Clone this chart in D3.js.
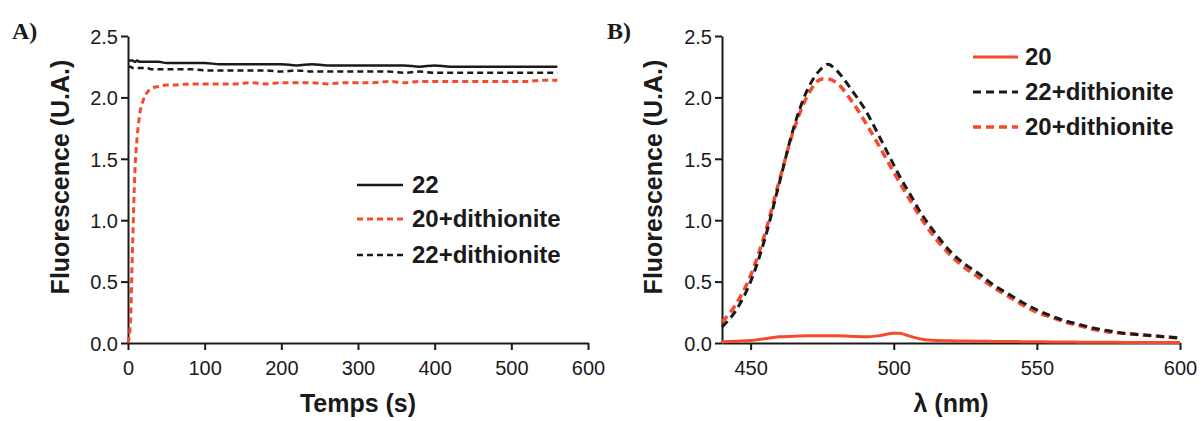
<!DOCTYPE html>
<html>
<head>
<meta charset="utf-8">
<script src="https://cdn.jsdelivr.net/npm/d3@7"></script>
<style>
  html, body { margin: 0; padding: 0; background: #fff; }
  svg { display: block; }
</style>
</head>
<body>
<svg id="fig" width="1202" height="421"></svg>
<script>
// ---- Panel A: fluorescence vs time ----
const timeA = [0, 3, 6, 9, 12, 15, 20, 25, 30, 40, 50, 60, 80, 100, 120, 140, 160, 180, 200,
  220, 240, 260, 280, 300, 320, 340, 360, 380, 400, 420, 440, 460, 480, 500, 520, 540, 560];
const a22 = [2.30, 2.30, 2.30, 2.29, 2.30, 2.29, 2.29, 2.29, 2.29, 2.29, 2.28, 2.28, 2.28, 2.28,
  2.27, 2.27, 2.27, 2.27, 2.27, 2.26, 2.27, 2.26, 2.26, 2.26, 2.26, 2.26, 2.26, 2.25, 2.26, 2.25,
  2.25, 2.25, 2.25, 2.25, 2.25, 2.25, 2.25];
const a20dith = [0.00, 0.15, 0.80, 1.40, 1.68, 1.85, 1.98, 2.04, 2.07, 2.09, 2.10, 2.10, 2.11,
  2.11, 2.11, 2.11, 2.12, 2.11, 2.12, 2.12, 2.12, 2.11, 2.12, 2.12, 2.12, 2.13, 2.12, 2.13, 2.13,
  2.13, 2.13, 2.13, 2.13, 2.13, 2.13, 2.14, 2.14];
const a22dith = [2.25, 2.25, 2.24, 2.24, 2.24, 2.24, 2.24, 2.24, 2.23, 2.23, 2.23, 2.23, 2.23,
  2.22, 2.22, 2.22, 2.22, 2.22, 2.21, 2.22, 2.21, 2.21, 2.21, 2.21, 2.21, 2.21, 2.20, 2.21, 2.20,
  2.20, 2.20, 2.20, 2.20, 2.20, 2.20, 2.20, 2.20];
const ticksTime = [0, 100, 200, 300, 400, 500, 600];

// ---- Panel B: emission spectra ----
const lambdaB = [440, 445, 450, 455, 460, 465, 470, 475, 477, 480, 485, 490, 495, 500, 502, 505,
  510, 515, 520, 525, 530, 535, 540, 545, 550, 555, 560, 565, 570, 575, 580, 585, 590, 595, 600];
const b20 = [0.010, 0.015, 0.020, 0.035, 0.050, 0.055, 0.060, 0.060, 0.060, 0.060, 0.055, 0.050,
  0.060, 0.080, 0.080, 0.060, 0.030, 0.020, 0.018, 0.016, 0.015, 0.013, 0.012, 0.011, 0.010,
  0.009, 0.008, 0.007, 0.006, 0.006, 0.005, 0.005, 0.004, 0.004, 0.004];
const b22dith = [0.13, 0.27, 0.50, 0.85, 1.30, 1.75, 2.07, 2.24, 2.27, 2.22, 2.07, 1.90, 1.68,
  1.45, 1.36, 1.24, 1.04, 0.88, 0.74, 0.64, 0.56, 0.47, 0.40, 0.33, 0.27, 0.22, 0.18, 0.15, 0.12,
  0.10, 0.08, 0.07, 0.06, 0.05, 0.04];
const b20dith = [0.17, 0.32, 0.55, 0.89, 1.32, 1.73, 2.02, 2.15, 2.15, 2.12, 1.98, 1.80, 1.60,
  1.39, 1.31, 1.19, 1.00, 0.84, 0.71, 0.61, 0.53, 0.45, 0.38, 0.31, 0.25, 0.21, 0.17, 0.14, 0.11,
  0.09, 0.08, 0.07, 0.06, 0.05, 0.04];
const ticksLambda = [450, 500, 550, 600];

const ticksFluo = [0, 0.5, 1.0, 1.5, 2.0, 2.5];

const RED = "#f64a2c";
const INK = "#1a1a1a";
const SANS = "'Liberation Sans', Arial, Helvetica, sans-serif";

const svg = d3.select("#fig");

function drawPanel(opt) {
  const x = d3.scaleLinear().domain(opt.xDomain).range([opt.left, opt.right]);
  const y = d3.scaleLinear().domain([0, 2.5]).range([343, 36]);
  const g = svg.append("g");

  // y axis
  const ya = g.append("g")
    .attr("transform", `translate(${opt.left},0)`)
    .call(d3.axisLeft(y).tickValues(ticksFluo).tickFormat(d3.format(".1f"))
      .tickSize(7).tickSizeOuter(0).tickPadding(3));
  // x axis
  const xa = g.append("g")
    .attr("transform", "translate(0,343)")
    .call(d3.axisBottom(x).tickValues(opt.xTicks).tickFormat(d3.format("d"))
      .tickSize(7).tickSizeOuter(0));
  [ya, xa].forEach(ax => {
    ax.select(".domain").attr("stroke", INK).attr("stroke-width", 2);
    ax.selectAll(".tick line").attr("stroke", INK).attr("stroke-width", 2);
    ax.selectAll(".tick text").attr("fill", INK)
      .style("font-family", SANS).style("font-size", "20px");
  });
  xa.selectAll(".tick text").attr("y", 32).attr("dy", 0);
  ya.selectAll(".tick text").attr("dy", "0.36em");

  // axis titles
  g.append("text")
    .attr("transform", `translate(${opt.yTitleX},177) rotate(-90)`)
    .attr("text-anchor", "middle").attr("dy", "0.36em")
    .style("font-family", SANS).style("font-size", "25px").style("font-weight", "bold")
    .attr("fill", INK).text("Fluorescence (U.A.)");
  g.append("text")
    .attr("x", (opt.left + opt.right) / 2).attr("y", 412)
    .attr("text-anchor", "middle")
    .style("font-family", SANS).style("font-size", "25px").style("font-weight", "bold")
    .attr("fill", INK).text(opt.xTitle);

  // panel letter
  g.append("text")
    .attr("x", opt.letterX).attr("y", 39)
    .style("font-family", "'Liberation Serif', 'Times New Roman', serif")
    .style("font-size", "24px").style("font-weight", "bold")
    .attr("fill", INK).text(opt.letter);

  // curves
  const line = d3.line()
    .x((d, i) => x(opt.xs[i]))
    .y(d => y(d))
    .curve(d3.curveMonotoneX);
  opt.series.forEach(s => {
    g.append("path")
      .datum(s.values)
      .attr("d", line)
      .attr("fill", "none")
      .attr("stroke", s.color)
      .attr("stroke-width", s.width)
      .attr("stroke-dasharray", s.dash || null)
      .attr("stroke-linejoin", "round");
  });

  // legend
  opt.legend.items.forEach((s, i) => {
    const by = opt.legend.baselines[i];
    g.append("line")
      .attr("x1", opt.legend.x1).attr("x2", opt.legend.x2)
      .attr("y1", by - 8).attr("y2", by - 8)
      .attr("stroke", s.color).attr("stroke-width", s.width)
      .attr("stroke-dasharray", s.dash || null);
    g.append("text")
      .attr("x", opt.legend.tx).attr("y", by)
      .style("font-family", SANS).style("font-size", "24px").style("font-weight", "bold")
      .attr("fill", INK).text(s.name);
  });
}

const sA22 = { name: "22", values: a22, color: INK, width: 2.5 };
const sA20d = { name: "20+dithionite", values: a20dith, color: RED, width: 3, dash: "6,4" };
const sA22d = { name: "22+dithionite", values: a22dith, color: INK, width: 2.5, dash: "6,4" };

drawPanel({
  xDomain: [0, 600], left: 128, right: 588, xTicks: ticksTime, xs: timeA,
  xTitle: "Temps (s)", yTitleX: 60, letter: "A)", letterX: 12,
  series: [sA20d, sA22d, sA22],
  legend: { x1: 357, x2: 403, tx: 412, baselines: [193, 227, 263], items: [sA22, sA20d, sA22d] }
});

const sB20 = { name: "20", values: b20, color: RED, width: 3 };
const sB22d = { name: "22+dithionite", values: b22dith, color: INK, width: 3, dash: "8,5" };
const sB20d = { name: "20+dithionite", values: b20dith, color: RED, width: 3.5, dash: "8,5" };

drawPanel({
  xDomain: [440, 600], left: 722, right: 1180, xTicks: ticksLambda, xs: lambdaB,
  xTitle: "λ (nm)", yTitleX: 653, letter: "B)", letterX: 607,
  series: [sB20, sB20d, sB22d],
  legend: { x1: 973, x2: 1018, tx: 1025, baselines: [65, 100, 135], items: [sB20, sB22d, sB20d] }
});
</script>
</body>
</html>
